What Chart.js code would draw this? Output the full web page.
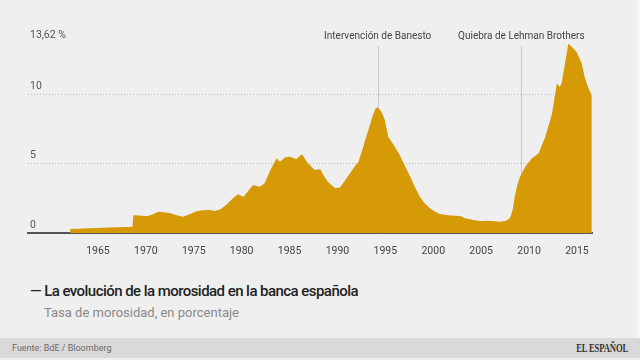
<!DOCTYPE html>
<html>
<head>
<meta charset="utf-8">
<script src="https://cdn.jsdelivr.net/npm/chart.js@4"></script>
<style>
  html, body { margin:0; padding:0; }
  body { width:640px; height:360px; background:#efefef; position:relative; overflow:hidden; font-family:Roboto, "Noto Sans", sans-serif; }
  #c { position:absolute; left:0; top:0; }
  .title { position:absolute; left:30px; top:281px; font-size:15px; font-weight:500; color:#222; line-height:20px; white-space:nowrap; letter-spacing:-0.55px; }
  .sub { position:absolute; left:44px; top:304px; font-size:13px; color:#8a8a8a; line-height:18px; white-space:nowrap; }
  .foot { position:absolute; left:0; top:338px; width:640px; height:20px; background:#d9d9d9; }
  .src { position:absolute; left:12px; top:5px; font-size:9px; color:#6a6a6a; line-height:11px; }
  .logo { position:absolute; right:12px; top:3px; font-family:"Liberation Serif", serif; font-weight:bold; font-size:12px; color:#333; line-height:14px; transform:scaleX(0.72); transform-origin:right center; letter-spacing:-0.2px; }
  .edge { position:absolute; left:637px; top:0; width:3px; height:338px; background:#f6f6f6; }
</style>
</head>
<body>
<canvas id="c" width="640" height="270"></canvas>
<div class="edge"></div>
<div class="title">— La evolución de la morosidad en la banca española</div>
<div class="sub">Tasa de morosidad, en porcentaje</div>
<div class="foot"><span class="src">Fuente: BdE / Bloomberg</span><span class="logo">EL ESPAÑOL</span></div>
<script>
// ---- data ----
const years = [
  1962.1,1963.0,1964.0,1965.0,1966.0,1967.0,1968.0,1968.6,1968.7,1969.3,1969.8,1970.2,1970.7,1971.3,1971.8,
  1972.5,1973.2,1973.9,1974.5,1975.3,1976.0,1976.7,1977.2,1977.8,1978.4,1979.1,1979.6,1980.2,1980.7,1981.2,
  1981.9,1982.4,1983.0,1983.65,1984.0,1984.5,1984.9,1985.3,1985.7,1986.3,1986.8,1987.2,1987.6,1988.2,1988.6,
  1989.0,1989.4,1989.8,1990.3,1990.8,1991.3,1991.65,1992.2,1992.6,1993.0,1993.4,1993.7,1994.0,1994.2,1994.6,
  1994.95,1995.3,1995.9,1996.5,1997.0,1997.6,1998.1,1998.6,1999.1,1999.65,2000.2,2000.7,2001.5,2002.4,2002.9,
  2003.3,2004.2,2004.9,2005.6,2006.3,2007.0,2007.6,2008.0,2008.3,2008.5,2008.75,2009.05,2009.6,2010.3,2011.0,
  2011.7,2012.4,2012.9,2013.2,2013.4,2013.75,2014.1,2014.6,2014.95,2015.5,2015.8,2016.2,2016.55
];
const morosidad = [
  0.30,0.33,0.36,0.38,0.41,0.43,0.45,0.47,1.30,1.28,1.25,1.24,1.35,1.55,1.52,
  1.46,1.30,1.19,1.35,1.58,1.65,1.67,1.60,1.72,2.05,2.51,2.80,2.63,3.05,3.47,
  3.35,3.59,4.54,5.38,5.14,5.45,5.50,5.45,5.31,5.67,5.14,4.85,4.54,4.59,4.10,
  3.70,3.45,3.23,3.30,3.80,4.30,4.66,5.14,6.00,6.94,7.80,8.49,9.00,9.04,8.73,
  8.13,6.94,6.30,5.62,4.90,4.06,3.30,2.63,2.15,1.79,1.55,1.39,1.30,1.26,1.22,
  1.08,0.95,0.88,0.90,0.86,0.83,0.90,1.08,1.70,2.63,3.40,4.06,4.78,5.38,5.74,
  6.94,8.61,10.77,10.52,10.77,12.20,13.62,13.28,13.04,12.20,11.24,10.41,9.93
];
const xTickYears = [1965,1970,1975,1980,1985,1990,1995,2000,2005,2010,2015];
const yTickValues = [0, 5, 10, 13.62];
const annotationYears = [1994.2, 2009.2];
const annotationLabels = ['Intervención de Banesto', 'Quiebra de Lehman Brothers'];

const points = years.map((y, i) => ({x: y, y: morosidad[i]}));

const annotPlugin = {
  id: 'annot',
  beforeDatasetsDraw(chart) {
    const {ctx, scales: {x, y}} = chart;
    ctx.save();
    ctx.strokeStyle = '#c9c9c9';
    ctx.lineWidth = 1;
    annotationYears.forEach((yr) => {
      const px = Math.round(x.getPixelForValue(yr)) + 0.5;
      ctx.beginPath();
      ctx.moveTo(px, 46);
      ctx.lineTo(px, y.getPixelForValue(0));
      ctx.stroke();
    });
    ctx.fillStyle = '#444';
    ctx.font = '10px Roboto';
    ctx.textAlign = 'center';
    ctx.textBaseline = 'middle';
    annotationYears.forEach((yr, i) => {
      ctx.fillText(annotationLabels[i], x.getPixelForValue(yr), 36);
    });
    ctx.restore();
  }
};

new Chart(document.getElementById('c'), {
  type: 'line',
  data: {
    datasets: [{
      data: points,
      fill: 'origin',
      backgroundColor: '#d59a06',
      borderWidth: 0,
      pointRadius: 0,
      tension: 0
    }]
  },
  options: {
    responsive: false,
    animation: false,
    devicePixelRatio: 1,
    layout: { padding: { top: 43.6, right: 48, left: 0, bottom: 0 } },
    plugins: { legend: { display: false }, tooltip: { enabled: false } },
    scales: {
      x: {
        type: 'linear',
        min: 1957.7,
        max: 2016.57,
        afterBuildTicks: (s) => { s.ticks = xTickYears.map(v => ({value: v})); },
        afterFit: (s) => { s.height = 36.7; },
        grid: { display: false, drawTicks: false },
        border: { display: true, color: '#555', width: 2 },
        ticks: {
          padding: 12,
          color: '#444',
          font: { family: 'Roboto', size: 10.5 },
          callback: (v) => String(v),
          maxRotation: 0
        }
      },
      y: {
        min: 0,
        max: 13.62,
        afterBuildTicks: (s) => { s.ticks = yTickValues.map(v => ({value: v})); },
        afterFit: (s) => { s.width = 28; },
        grid: {
          drawTicks: false,
          color: (c) => (c.tick && (c.tick.value === 5 || c.tick.value === 10)) ? '#bdbdbd' : 'rgba(0,0,0,0)',
          lineWidth: 1
        },
        border: { display: false, dash: [1, 2] },
        ticks: {
          mirror: true,
          padding: 2,
          labelOffset: -8,
          color: '#555',
          font: { family: 'Roboto', size: 10.5 },
          callback: (v) => v === 13.62 ? '13,62 %' : String(v)
        }
      }
    }
  },
  plugins: [annotPlugin]
});
</script>
</body>
</html>
